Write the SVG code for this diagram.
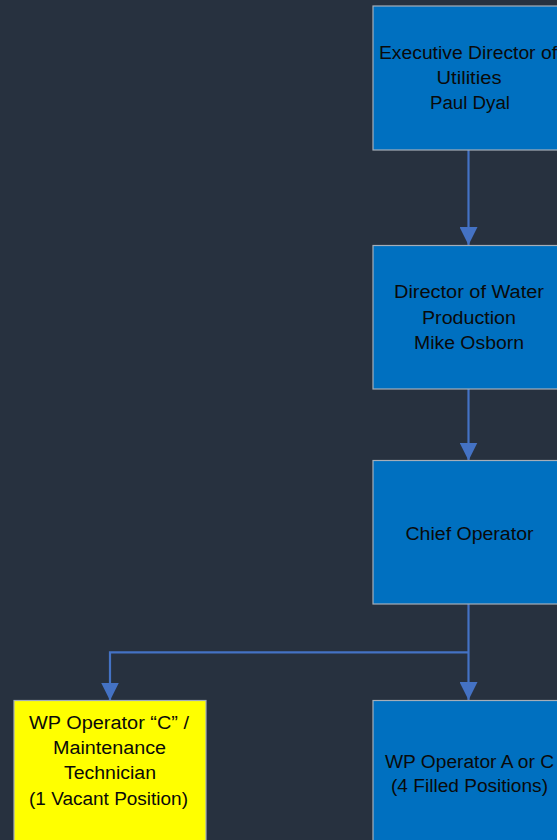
<svg xmlns="http://www.w3.org/2000/svg" width="557" height="840" viewBox="0 0 557 840">
  <defs>
    <marker id="arrow" markerWidth="18" markerHeight="18" refX="18" refY="9" orient="auto" markerUnits="userSpaceOnUse">
      <path d="M0,0 L18,9 L0,18 Z" fill="#4472C4"/>
    </marker>
    <style>
      .box { fill: #0070C0; stroke: #A5AEB8; stroke-width: 1.2; }
      .vacant { fill: #FFFF00; stroke: #A5AEB8; stroke-width: 1.2; }
      .lbl { font-family: "Liberation Sans", Arial, sans-serif; font-size: 18px; fill: #0A0A0A; text-anchor: middle; }
      .conn { fill: none; stroke: #4472C4; stroke-width: 2.2; }
    </style>
  </defs>

  <rect width="557" height="840" fill="#27313F"/>

  <g id="connectors">
    <path class="conn" d="M468.5,150 V245" marker-end="url(#arrow)"/>
    <path class="conn" d="M468.5,389 V460.5" marker-end="url(#arrow)"/>
    <path class="conn" d="M468.5,604 V700" marker-end="url(#arrow)"/>
    <path class="conn" d="M468.5,652.3 H110 V700.5" marker-end="url(#arrow)"/>
  </g>

  <g id="exec-director">
    <rect class="box" x="373" y="6" width="194" height="144"/>
    <text class="lbl" x="468" y="58.5" textLength="178" lengthAdjust="spacingAndGlyphs">Executive Director of</text>
    <text class="lbl" x="469" y="83.5" textLength="65" lengthAdjust="spacingAndGlyphs">Utilities</text>
    <text class="lbl" x="470" y="109" textLength="80" lengthAdjust="spacingAndGlyphs">Paul Dyal</text>
  </g>

  <g id="water-director">
    <rect class="box" x="373" y="245.5" width="194" height="143.5"/>
    <text class="lbl" x="469" y="297.5" textLength="150" lengthAdjust="spacingAndGlyphs">Director of Water</text>
    <text class="lbl" x="469" y="323.5" textLength="94" lengthAdjust="spacingAndGlyphs">Production</text>
    <text class="lbl" x="469" y="348.5" textLength="110" lengthAdjust="spacingAndGlyphs">Mike Osborn</text>
  </g>

  <g id="chief-operator">
    <rect class="box" x="373" y="460.5" width="194" height="143.5"/>
    <text class="lbl" x="469.5" y="540" textLength="128" lengthAdjust="spacingAndGlyphs">Chief Operator</text>
  </g>

  <g id="operators-filled">
    <rect class="box" x="373" y="700.5" width="194" height="150"/>
    <text class="lbl" x="469.5" y="767.5" textLength="169" lengthAdjust="spacingAndGlyphs">WP Operator A or C</text>
    <text class="lbl" x="469.5" y="792" textLength="157" lengthAdjust="spacingAndGlyphs">(4 Filled Positions)</text>
  </g>

  <g id="operator-vacant">
    <rect class="vacant" x="14" y="700.5" width="192" height="150"/>
    <text class="lbl" x="109" y="728.5" textLength="160" lengthAdjust="spacingAndGlyphs">WP Operator “C” /</text>
    <text class="lbl" x="109.5" y="753.5" textLength="113" lengthAdjust="spacingAndGlyphs">Maintenance</text>
    <text class="lbl" x="110" y="779" textLength="92" lengthAdjust="spacingAndGlyphs">Technician</text>
    <text class="lbl" x="108.5" y="804.5" textLength="159" lengthAdjust="spacingAndGlyphs">(1 Vacant Position)</text>
  </g>
</svg>
